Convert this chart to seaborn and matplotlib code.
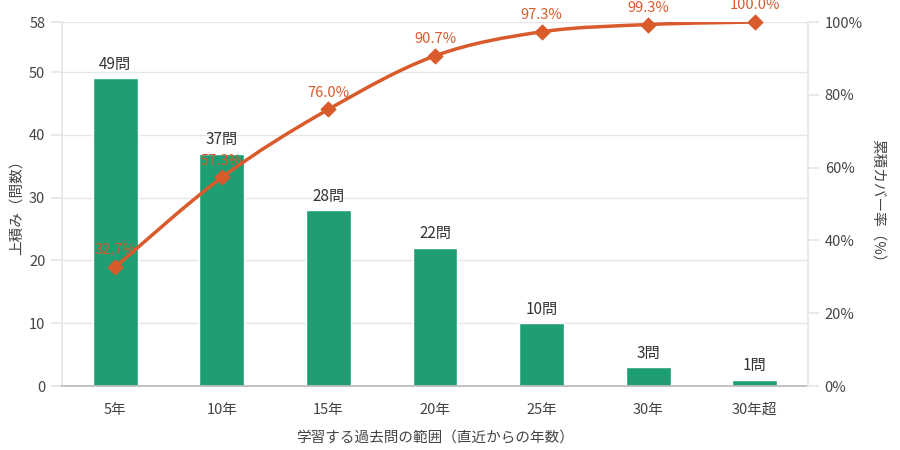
import numpy as np
import pandas as pd
import matplotlib
matplotlib.use('Agg')
import matplotlib.pyplot as plt
from matplotlib.path import Path
from matplotlib.patches import PathPatch
import seaborn as sns

# data
categories = ['5年', '10年', '15年', '20年', '25年', '30年', '30年超']
counts = [49, 37, 28, 22, 10, 3, 1]
cum_pct = [32.7, 57.3, 76.0, 90.7, 97.3, 99.3, 100.0]
left_ticks = [0, 10, 20, 30, 40, 50, 58]
right_ticks = [0, 20, 40, 60, 80, 100]

BAR = '#1f9e74'
LINE = '#d95a2b'
TXT = '#444444'
GRID = '#e6e6e6'

sns.set_theme(style='white')
plt.rcParams['font.family'] = ['Noto Sans CJK JP', 'DejaVu Sans']

df = pd.DataFrame({'cat': categories, 'n': counts, 'pct': cum_pct})

fig, ax = plt.subplots(figsize=(9, 4.5), dpi=100)
fig.subplots_adjust(left=62/900, right=808/900, top=1-22/450, bottom=1-386/450)

sns.barplot(data=df, x='cat', y='n', color=BAR, width=0.42, saturation=1, ax=ax, zorder=2)
ax.set_xlim(-0.5, len(categories) - 0.5)
ax.set_ylim(0, 58)
ax.set_yticks(left_ticks)
ax.yaxis.grid(True, color=GRID, lw=1, zorder=0)
ax.set_axisbelow(True)
for i, v in enumerate(counts):
    ax.annotate(f'{v}問', (i, v), xytext=(0, 4), textcoords='offset points',
                ha='center', va='bottom', fontsize=11, color='#333333')

ax.set_xlabel('学習する過去問の範囲（直近からの年数）', fontsize=10.5, color=TXT, labelpad=10)
ax.set_ylabel('上積み（問数）', fontsize=10.5, color=TXT, labelpad=4)
ax.tick_params(axis='x', length=0, pad=12, labelsize=10.5, labelcolor=TXT)
ax.tick_params(axis='y', left=True, length=8, color=GRID, pad=4, labelsize=10.5, labelcolor=TXT)

for s in ['top', 'right']:
    ax.spines[s].set_visible(False)
ax.spines['left'].set_color(GRID)
ax.spines['bottom'].set_color('#bbbbbb')

# cumulative line on right axis
ax2 = ax.twinx()
ax2.set_ylim(0, 100)
ax2.set_yticks(right_ticks)
ax2.set_yticklabels([f'{t}%' for t in right_ticks])
ax2.tick_params(axis='y', right=True, length=8, color=GRID, pad=4, labelsize=10.5, labelcolor=TXT)
for s in ['top', 'left', 'bottom']:
    ax2.spines[s].set_visible(False)
ax2.spines['right'].set_color(GRID)
ax2.set_ylabel('累積カバー率（%）', fontsize=10.5, color=TXT, rotation=-90, labelpad=16)

# smooth curve through the points (catmull-rom -> bezier)
xs = np.arange(len(cum_pct), dtype=float)
pts = np.column_stack([xs, cum_pct])
verts = [pts[0]]
codes = [Path.MOVETO]
n = len(pts)
for i in range(n - 1):
    p0 = pts[max(i - 1, 0)]
    p1 = pts[i]
    p2 = pts[i + 1]
    p3 = pts[min(i + 2, n - 1)]
    c1 = p1 + (p2 - p0) / 6
    c2 = p2 - (p3 - p1) / 6
    verts += [c1, c2, p2]
    codes += [Path.CURVE4] * 3
ax2.add_patch(PathPatch(Path(verts, codes), fill=False, edgecolor=LINE, lw=2.5, zorder=3))
sns.scatterplot(x=xs, y=cum_pct, marker='D', s=60, color=LINE, edgecolor=LINE,
                ax=ax2, zorder=4, legend=False, clip_on=False)
for x, p in zip(xs, cum_pct):
    ax2.annotate(f'{p:.1f}%', (x, p), xytext=(0, 7), textcoords='offset points',
                 ha='center', va='bottom', fontsize=10.5, color=LINE, annotation_clip=False)

fig.savefig('out.png', dpi=100)
